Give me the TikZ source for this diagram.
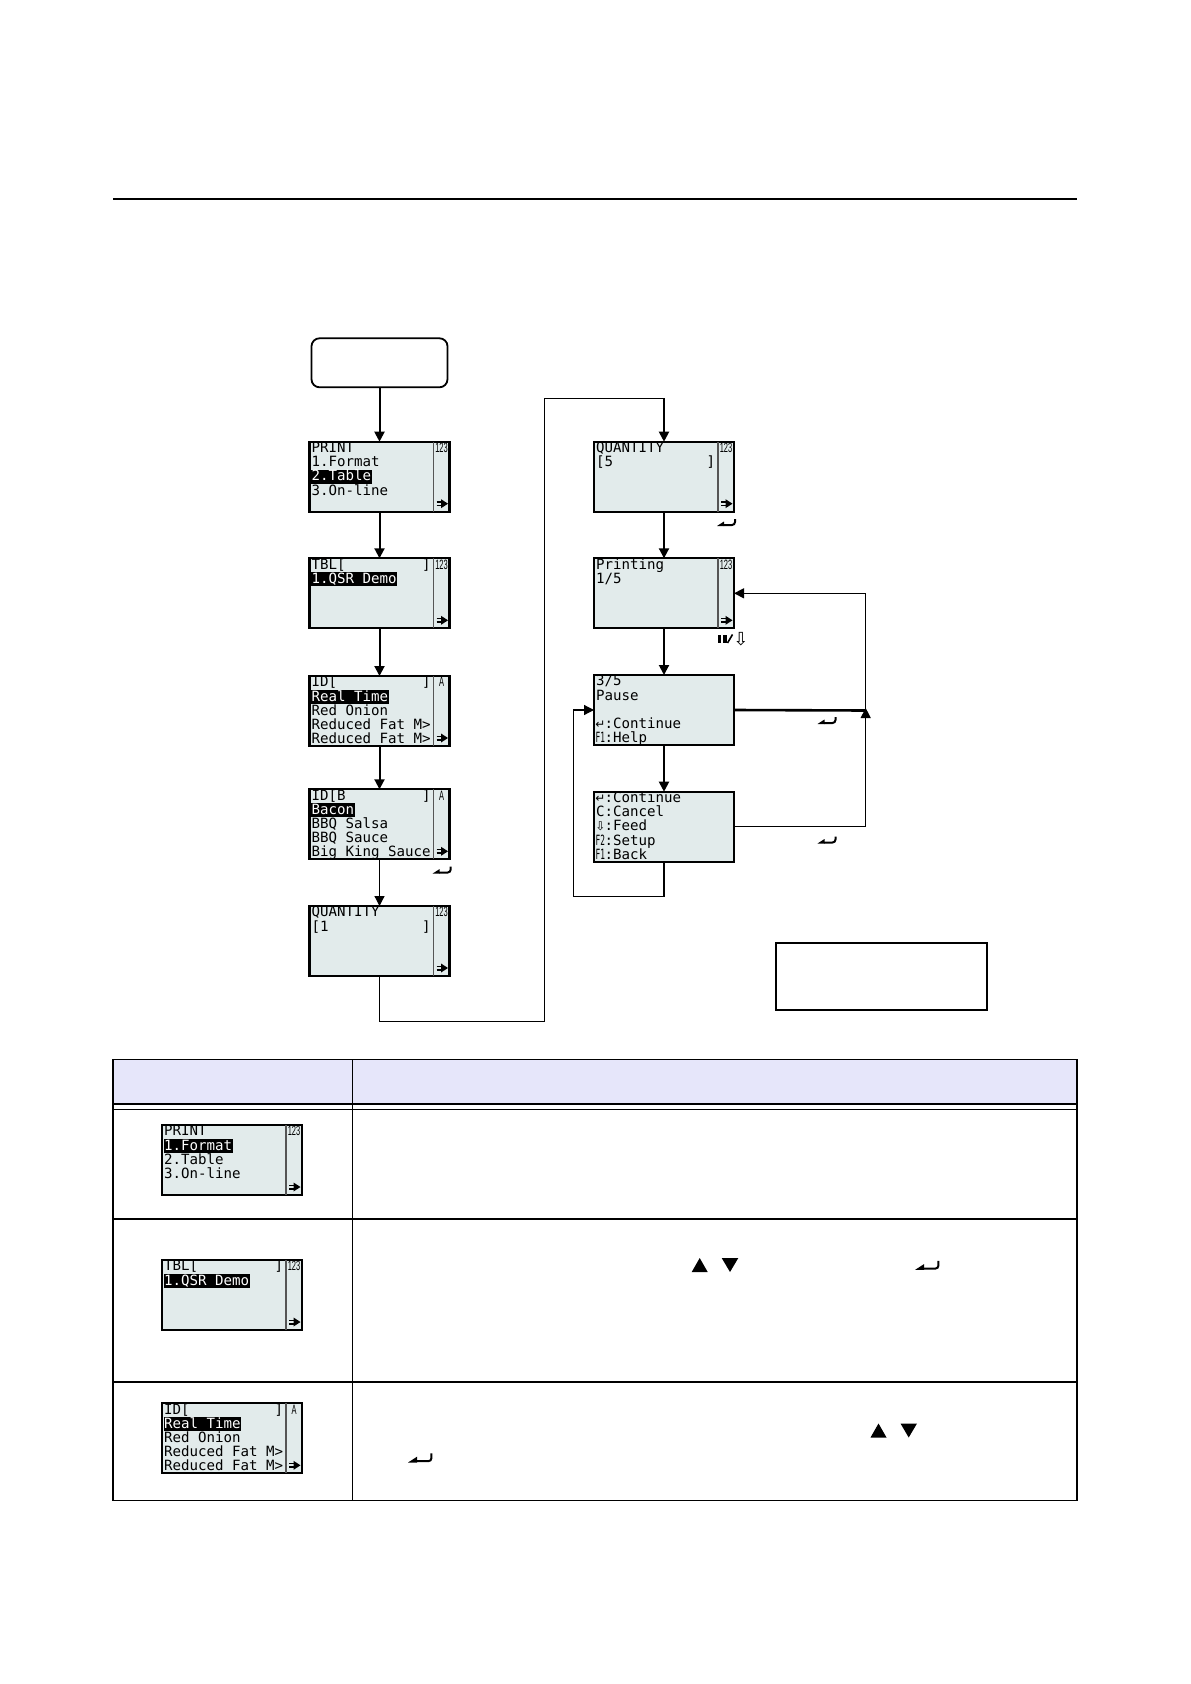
\documentclass[tikz,border=0pt]{standalone}
\usepackage{fontspec}
\setmainfont{Liberation Sans}
\newfontfamily\lcdfont{DejaVu Sans Mono}
\newfontfamily\symfont{DejaVu Sans}
\usetikzlibrary{arrows.meta,calc}
\definecolor{lcdbg}{HTML}{E2EBEB}
\definecolor{hdrbg}{HTML}{E6E6FA}
\definecolor{divgray}{HTML}{555555}

\newcommand{\lcdcell}[1]{\makebox[4.25pt][c]{#1}}
\newcommand{\enterglyph}{\lcdcell{\symfont\fontsize{6pt}{6pt}\selectfont ↵}}
\newcommand{\downglyph}{\lcdcell{\symfont\fontsize{6pt}{6pt}\selectfont ⇩}}
\newcommand{\fkey}[1]{\lcdcell{\scalebox{0.55}[1]{F#1}}}

\tikzset{
  x=0.5pt, y=-0.5pt,
  every node/.append style={outer sep=0pt},
  lcd/.style={draw=black, line width=1.1pt, fill=lcdbg, minimum width=70pt,
    minimum height=35pt, inner sep=0pt, anchor=north west},
  lcdtxt/.style={anchor=base west, inner sep=0.3pt, text height=5.4pt, text depth=1.2pt,
    font=\lcdfont\fontsize{7.06pt}{7pt}\selectfont},
  lcdhlt/.style={lcdtxt, fill=black, text=white},
  sidelbl/.style={anchor=north, inner sep=0pt, font=\fontsize{6.8pt}{6.8pt}\selectfont},
  conn/.style={line width=1pt, -{Triangle[width=5pt,length=5pt]}},
  thinconn/.style={line width=0.6pt, -{Triangle[width=5pt,length=5pt]}},
  thinline/.style={line width=0.6pt},
  tbl/.style={line width=0.8pt, draw=black},
  plug/.pic={
    \draw[line width=0.7pt] (-6,-1.8) -- (-1,-1.8) (-6,1.8) -- (-1,1.8);
    \fill (-1.5,-4.5) -- (5.5,0) -- (-1.5,4.5) -- cycle;
  },
  enterkey/.pic={
    \fill (-10,3) -- (-3,-1.5) -- (-3,3) -- cycle;
    \draw[line width=1pt, rounded corners=1.5] (-3.5,2) -- (8,2) -- (8,-4);
  }
}

\newcommand{\lcdscreen}[4]{%
  \node[lcd] (#1) at (#2,#3) {};
  \if\relax\detokenize{#4}\relax\else
    \draw[divgray, line width=0.9pt] ([xshift=62pt]#1.north west) -- ([xshift=62pt]#1.south west);
    \node[sidelbl] (#1-side) at ([xshift=66pt,yshift=-0.7pt]#1.north west) {\scalebox{0.55}[1]{#4}};
    \pic at ([xshift=-3.5pt,yshift=4pt]#1.south east) {plug};
  \fi
}
\newcommand{\lcdline}[3]{\node[lcdtxt] (#1-l#2) at ([shift={(1.5,{10.8+14.2*#2})}]#1.north west) {#3};}
\newcommand{\lcdhl}[3]{\node[lcdhlt] (#1-l#2) at ([shift={(1.5,{10.8+14.2*#2})}]#1.north west) {#3};}

\begin{document}
\begin{tikzpicture}
\fill[white] (0,0) rectangle (1190,1684);
\useasboundingbox (0,0) rectangle (1190,1684);

% top rule
\draw[line width=1pt] (113,198.7) -- (1077,198.7);

% start box
\node[draw, line width=0.9pt, rounded corners=4pt, minimum width=68pt, minimum height=24.5pt,
  anchor=north west, inner sep=0pt] (start) at (311.5,338.3) {};

% left column screens
\lcdscreen{print}{309.5}{441.7}{123}
\lcdline{print}{0}{PRINT}
\lcdline{print}{1}{1.Format}
\lcdhl{print}{2}{2.Table}
\lcdline{print}{3}{3.On-line}

\lcdscreen{tbl}{309.5}{558.3}{123}
\lcdline{tbl}{0}{TBL[~~~~~~~~~]}
\lcdhl{tbl}{1}{1.QSR~Demo}

\lcdscreen{id}{309.5}{676}{A}
\lcdline{id}{0}{ID[~~~~~~~~~~]}
\lcdhl{id}{1}{Real~Time}
\lcdline{id}{2}{Red~Onion}
\lcdline{id}{3}{Reduced~Fat~M>}
\lcdline{id}{4}{Reduced~Fat~M>}

\lcdscreen{idb}{309.5}{789.3}{A}
\lcdline{idb}{0}{ID[B~~~~~~~~~]}
\lcdhl{idb}{1}{Bacon}
\lcdline{idb}{2}{BBQ~Salsa}
\lcdline{idb}{3}{BBQ~Sauce}
\lcdline{idb}{4}{Big~King~Sauce}

\lcdscreen{qtyone}{309.5}{906}{123}
\lcdline{qtyone}{0}{QUANTITY}
\lcdline{qtyone}{1}{[1~~~~~~~~~~~]}

% right column screens
\lcdscreen{qtyfive}{594}{441.7}{123}
\lcdline{qtyfive}{0}{QUANTITY}
\lcdline{qtyfive}{1}{[5~~~~~~~~~~~]}

\lcdscreen{printing}{594}{558.3}{123}
\lcdline{printing}{0}{Printing}
\lcdline{printing}{1}{1/5}

\lcdscreen{pause}{594}{675}{}
\lcdline{pause}{0}{3/5}
\lcdline{pause}{1}{Pause}
\lcdline{pause}{3}{\enterglyph:Continue}
\lcdline{pause}{4}{\fkey{1}:Help}

\lcdscreen{menu}{594}{791.7}{}
\lcdline{menu}{0}{\enterglyph:Continue}
\lcdline{menu}{1}{C:Cancel}
\lcdline{menu}{2}{\downglyph:Feed}
\lcdline{menu}{3}{\fkey{2}:Setup}
\lcdline{menu}{4}{\fkey{1}:Back}

% empty note box
\node[draw, line width=1.1pt, minimum width=105.8pt, minimum height=33.6pt, anchor=north west,
  inner sep=0pt] (note) at (775.7,942.7) {};

% left column connectors
\draw[conn] (start) -- (print);
\draw[conn] (print) -- (tbl);
\draw[conn] (tbl) -- (id);
\draw[conn] (id) -- (idb);
\draw[thinconn] (idb) -- (qtyone);

% route to right column
\coordinate (r1) at (544.5,1021.4);
\coordinate (r2) at (544.5,398.5);
\coordinate (r3) at (664,398.5);
\draw[thinline] (qtyone.south) |- (r1) -- (r2) -- (r3);
\draw[conn] (r3) -- (qtyfive.north);

% right column connectors
\draw[conn] (qtyfive) -- (printing);
\draw[conn] (printing) -- (pause);
\draw[conn] (pause) -- (menu);

% loops
\coordinate (j1) at (865.7,710.5);
\draw[line width=1.3pt] (pause.east) -- (j1);
\draw[thinconn] (j1) |- (printing.east);
\draw[thinconn] (menu.east) -| ([yshift=1.25pt]j1);
\coordinate (b2) at (573.3,896.7);
\draw[thinline] (menu.south) |- (b2);
\draw[thinconn] (b2) |- (pause.west);

% key labels
\pic at (442.7,870.5) {enterkey};
\pic at (727,523) {enterkey};
\pic at (827.5,721) {enterkey};
\pic at (827.5,840.5) {enterkey};
\fill (718,634.5) rectangle (721.3,643);
\fill (723.3,634.5) rectangle (726.6,643);
\draw[line width=0.8pt] (727.5,643) -- (732.5,634.5);
\node[inner sep=0pt, font=\symfont\fontsize{9pt}{9pt}\selectfont] (pausekey) at (741,639) {⇩};

% table
\fill[hdrbg] (113,1059.5) rectangle (1077,1104);
\draw[tbl] (113,1059.5) rectangle (1077,1500.5);
\draw[tbl] (113,1104) -- (1077,1104);
\draw[tbl] (113,1109.5) -- (1077,1109.5);
\draw[tbl] (113,1219) -- (1077,1219);
\draw[tbl] (113,1382) -- (1077,1382);
\draw[tbl] (352.5,1059.5) -- (352.5,1500.5);

\lcdscreen{tone}{162}{1125}{123}
\lcdline{tone}{0}{PRINT}
\lcdhl{tone}{1}{1.Format}
\lcdline{tone}{2}{2.Table}
\lcdline{tone}{3}{3.On-line}

\lcdscreen{ttwo}{162}{1260}{123}
\lcdline{ttwo}{0}{TBL[~~~~~~~~~]}
\lcdhl{ttwo}{1}{1.QSR~Demo}

\lcdscreen{tthree}{162}{1403.3}{A}
\lcdline{tthree}{0}{ID[~~~~~~~~~~]}
\lcdhl{tthree}{1}{Real~Time}
\lcdline{tthree}{2}{Red~Onion}
\lcdline{tthree}{3}{Reduced~Fat~M>}
\lcdline{tthree}{4}{Reduced~Fat~M>}

% symbols in table text
\fill (691.7,1272) -- (707.7,1272) -- (699.7,1258) -- cycle;
\fill (721.7,1258) -- (738.3,1258) -- (730,1272) -- cycle;
\pic[scale=1.3] at (928,1266) {enterkey};
\fill (870.5,1437.5) -- (886.5,1437.5) -- (878.5,1423.5) -- cycle;
\fill (900.5,1423.5) -- (917,1423.5) -- (908.7,1437.5) -- cycle;
\pic[scale=1.3] at (421,1458.6) {enterkey};
\end{tikzpicture}
\end{document}
